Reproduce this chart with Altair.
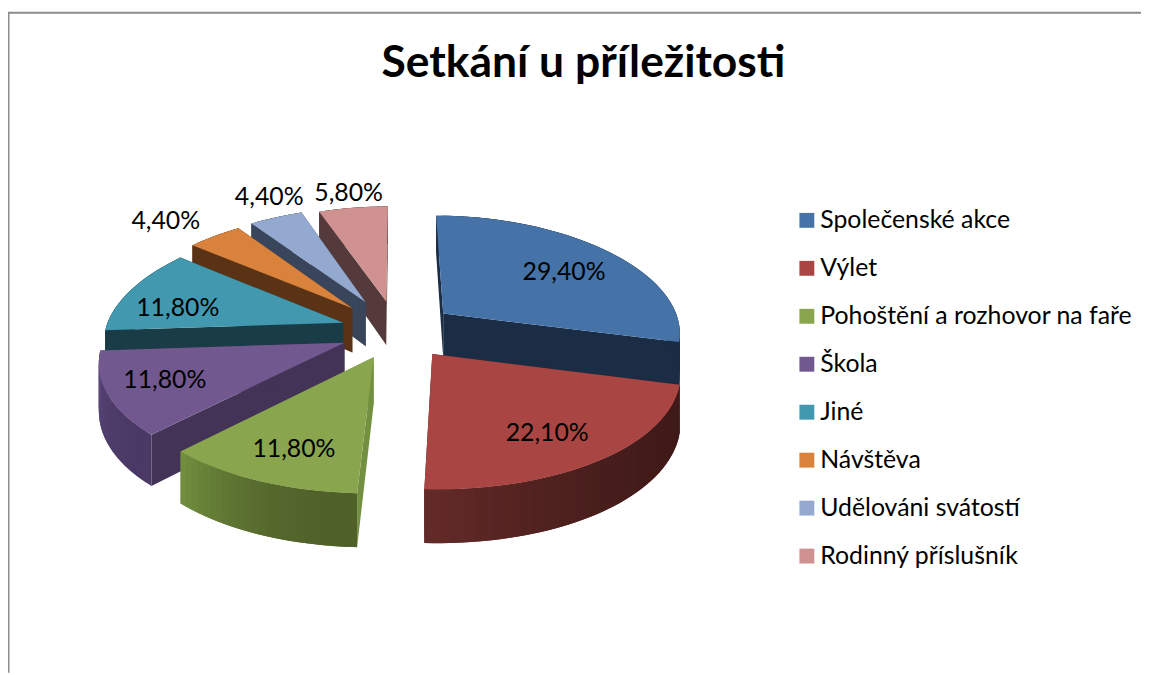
import math
import altair as alt

TITLE = "Setkání u příležitosti"
CATEGORIES = ["Společenské akce", "Výlet", "Pohoštění a rozhovor na faře", "Škola",
              "Jiné", "Návštěva", "Udělováni svátostí", "Rodinný příslušník"]
VALUES = [29.4, 22.1, 11.8, 11.8, 11.8, 4.4, 4.4, 5.8]
LABELS = ["29,40%", "22,10%", "11,80%", "11,80%", "11,80%", "4,40%", "4,40%", "5,80%"]
TOP_COLORS = ["#4572a7", "#a94543", "#89a54e", "#71588f", "#4198af", "#d8823c", "#93a9cf", "#d09291"]
RADIAL_COLORS = ["#1b2d45", "#3f1a18", "#72903f", "#433356", "#1a3c47", "#5a3316", "#39455a", "#543a3a"]
OUTER_START = ["#1b2d45", "#3f1a18", "#4f6029", "#4a3965", "#1a3c47", "#5a3316", "#39455a", "#543a3a"]
OUTER_END = ["#1b2d45", "#642b28", "#72903f", "#5f4a80", "#1a3c47", "#5a3316", "#39455a", "#543a3a"]
EXPLODE = [0.25, 0.24, 0.24, 0.24, 0.24, 0.28, 0.29, 0.27]
LABEL_U = [0.755, 0.555, -0.389, -0.93, -0.961, -1.177, -0.692, -0.272]
LABEL_V = [-0.56, 0.79, 0.905, 0.385, -0.22, -1.117, -1.41, -1.465]
DRAW_ORDER = [7, 6, 5, 4, 0, 3, 1, 2]

CX, CY = 392, 323
RX, RY = 240, 116.9
PERSP_X, PERSP_Y = 0.15, 0.12
DEPTH = 46

total = sum(VALUES)
edges = [0.0]
for v in VALUES:
    edges.append(edges[-1] + v / total * 2 * math.pi)


def project(u, v, z=0.0):
    fx = 1 + PERSP_X * v
    fy = 1 + PERSP_Y * v
    return [CX + RX * u * fx, CY + RY * v * fy + DEPTH * z * fx]


def disc(i, angle, r):
    m = (edges[i] + edges[i + 1]) / 2
    e = EXPLODE[i]
    return (e * math.sin(m) + r * math.sin(angle),
            -e * math.cos(m) - r * math.cos(angle))


def mix(a, b, t):
    ca = [int(a[k:k + 2], 16) for k in (1, 3, 5)]
    cb = [int(b[k:k + 2], 16) for k in (1, 3, 5)]
    return "#" + "".join(f"{round(x + (y - x) * t):02x}" for x, y in zip(ca, cb))


def poly(points, color):
    return {"type": "Feature", "properties": {"fill": color},
            "geometry": {"type": "Polygon", "coordinates": [points + [points[0]]]}}


features = []
for i in DRAW_ORDER:
    a0, a1 = edges[i], edges[i + 1]
    n = max(4, int((a1 - a0) / 0.03))
    angles = [a0 + (a1 - a0) * k / n for k in range(n + 1)]
    apex = disc(i, 0, 0)
    for a in (a0, a1):
        o = disc(i, a, 1)
        features.append(poly([project(*apex), project(*o), project(*o, 1), project(*apex, 1)], RADIAL_COLORS[i]))
    # each wall strip reaches under the next one, so no seam shows between them
    for k in range(n):
        p = disc(i, angles[k], 1)
        q = disc(i, angles[min(k + 2, n)], 1)
        features.append(poly([project(*p), project(*q), project(*q, 1), project(*p, 1)],
                             mix(OUTER_START[i], OUTER_END[i], ((k + 0.5) / n) ** 2)))
    features.append(poly([project(*apex)] + [project(*disc(i, a, 1)) for a in angles], TOP_COLORS[i]))

pie = alt.Chart(alt.Data(values=features)).mark_geoshape(strokeWidth=0).encode(
    fill=alt.Fill("properties.fill:N", scale=None, legend=None),
).project(type="identity", scale=1, translate=[0, 0])

label_rows = []
for u, v, text in zip(LABEL_U, LABEL_V, LABELS):
    x, y = project(u, v)
    label_rows.append({"x": x, "y": y, "label": text})

labels = alt.Chart(alt.Data(values=label_rows)).mark_text(
    font="Lato", fontSize=25, color="#000000", align="center", baseline="middle", dx=2, dy=2
).encode(
    x=alt.X("x:Q", scale=None, axis=None),
    y=alt.Y("y:Q", scale=None, axis=None),
    text="label:N",
)

legend_data = alt.Data(values=[{"category": c} for c in CATEGORIES])
legend_layer = alt.Chart(legend_data).mark_square(size=0).encode(
    x=alt.value(0), y=alt.value(0),
    color=alt.Color(
        "category:N",
        sort=CATEGORIES,
        scale=alt.Scale(domain=CATEGORIES, range=TOP_COLORS),
        legend=alt.Legend(
            orient="none", legendX=792, legendY=199, title=None,
            symbolType="square", symbolSize=225, symbolStrokeWidth=0, symbolOpacity=1,
            labelFont="Lato", labelFontSize=25, labelColor="#000000",
            labelOffset=1, rowPadding=22.3, labelLimit=400,
        ),
    ),
)

border_left = alt.Chart(alt.Data(values=[{"a": 0}])).mark_rule(color="#8c8c8c", strokeWidth=2).encode(
    x=alt.value(0.5), y=alt.value(2), y2=alt.value(667))
border_top = alt.Chart(alt.Data(values=[{"a": 0}])).mark_rule(color="#8c8c8c", strokeWidth=2).encode(
    y=alt.value(2.5), x=alt.value(0), x2=alt.value(1141))

chart = alt.layer(border_left, border_top, pie, labels, legend_layer).properties(
    width=1141, height=667, padding=0,
    autosize=alt.AutoSizeParams(type="none"),
    title=alt.TitleParams(TITLE, font="Lato", fontSize=44.7, fontWeight="bold", color="#000000",
                          anchor="middle", frame="group", dx=9, dy=103, baseline="middle"),
).configure_view(stroke=None)

chart.save("out.html", embed_options={"renderer": "svg", "actions": False})
